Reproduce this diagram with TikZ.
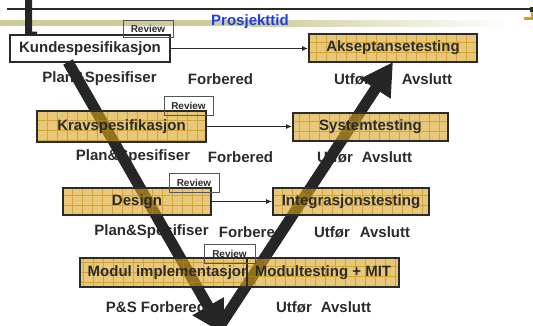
\documentclass[tikz,border=0pt]{standalone}
\usepackage{fontspec}
\setmainfont{Liberation Sans}
\usetikzlibrary{arrows.meta}
\definecolor{ink}{RGB}{43,43,43}
\definecolor{barc}{RGB}{38,38,38}
\definecolor{bandc}{RGB}{204,204,153}
\definecolor{goldf}{RGB}{216,163,30}
\definecolor{goldg}{RGB}{190,135,0}
\definecolor{blueone}{RGB}{30,60,230}
\definecolor{bracketc}{RGB}{212,160,23}
\definecolor{revc}{RGB}{85,85,85}
\begin{document}
\begin{tikzpicture}[x=1pt,y=-1pt,
  every node/.style={font=\fontsize{15}{18}\selectfont\bfseries, text=ink, inner sep=0pt},
  whitebox/.style={draw=ink, line width=1.8pt, fill=white},
  goldbox/.style={draw=ink, line width=1.8pt, fill=goldf, fill opacity=0.6, draw opacity=1, text opacity=1,
    path picture={\draw[goldg, line width=0.6pt, draw opacity=0.55, step=10pt]
      (path picture bounding box.south west) grid (path picture bounding box.north east);}},
  reviewbox/.style={draw=revc, line width=0.9pt, font=\fontsize{10}{12}\selectfont\bfseries},
  conn/.style={draw=ink, line width=1.3pt, -{Latex[length=6pt,width=5pt]}},
  vbar/.style={draw=barc, line width=11pt, -{Triangle[length=32pt,width=34pt]}}
]
\useasboundingbox (0,0) rectangle (533,325);
% band
\fill[bandc] (0,20) rectangle (250,26);
\shade[left color=bandc, right color=white] (250,20) rectangle (510,26);
% top line
\coordinate (tl) at (7,9);
\coordinate (tr) at (533,9);
\draw[ink, line width=1.5pt] (tl) -- (tr);
% bracket right
\draw[bracketc, line width=2.5pt] (532,12) -- (532,18.5) -- (524,18.5);
\fill[ink] (530,7) rectangle (533,12);
% title
\node[text=blueone] (ptid) at (250,21.5) {Prosjekttid};
% white box
\node[whitebox, minimum width=160pt, minimum height=27pt] (kunde) at (90,48.5) {Kundespesifikasjon};
% L bar
\fill[barc] (25,0) -- (32,0) -- (32,31.5) -- (37,31.5) -- (37,35) -- (25,35) -- cycle;
% row texts
\node (ra1) at (99.5,79) {Plan\&Spesifiser};
\node (rb1) at (220.5,79) {Forbered};
\node (rc1) at (352,79) {Utfør};
\node (rd1) at (427,79) {Avslutt};
\node (ra2) at (133,157) {Plan\&Spesifiser};
\node (rb2) at (240.5,157) {Forbered};
\node (rc2) at (335,157) {Utfør};
\node (rd2) at (387,157) {Avslutt};
\node (ra3) at (151.5,232) {Plan\&Spesifiser};
\node (rb3) at (251.5,232) {Forbered};
\node (rc3) at (332,232) {Utfør};
\node (rd3) at (385,232) {Avslutt};
\node (ra4) at (156,307) {P\&S Forbered};
\node (rc4) at (294,307) {Utfør};
\node (rd4) at (346,307) {Avslutt};
% V bars
\coordinate (dtop) at (68,62);
\coordinate (dbot) at (224,334);
\coordinate (ubot) at (216,332);
\coordinate (utip) at (393,62);
\draw[vbar] (dtop) -- (dbot);
\draw[vbar] (ubot) -- (utip);
% gold boxes
\node[goldbox, minimum width=168pt, minimum height=28pt] (aksept) at (393,48) {Akseptansetesting};
\node[goldbox, minimum width=169pt, minimum height=31pt] (krav) at (121.5,126.5) {Kravspesifikasjon};
\node[goldbox, minimum width=155pt, minimum height=28pt] (system) at (370.5,127) {Systemtesting};
\node[goldbox, minimum width=148pt, minimum height=27pt] (design) at (137,201.5) {Design};
\node[goldbox, minimum width=156pt, minimum height=27pt] (integ) at (351,201.5) {Integrasjonstesting};
\node[goldbox, minimum width=167pt, minimum height=29pt] (modul) at (163.5,272.5) {};
\begin{scope}
\clip (80,250) rectangle (246,295);
\node (modultxt) at (169,272.5) {Modul implementasjon};
\end{scope}
\node[goldbox, minimum width=152pt, minimum height=29pt] (modtest) at (323,272.5) {Modultesting + MIT};
% review boxes
\node[reviewbox, minimum width=50pt, minimum height=17pt] (rev1) at (148,28.5) {Review};
\node[reviewbox, minimum width=49pt, minimum height=19pt] (rev2) at (188.5,105.5) {Review};
\node[reviewbox, minimum width=50pt, minimum height=19pt] (rev3) at (194,182.5) {Review};
\node[reviewbox, minimum width=51pt, minimum height=19pt] (rev4) at (229.5,253.5) {Review};
% connectors
\draw[conn] (kunde.east) -- (kunde.east -| aksept.west);
\draw[conn] (krav.east) -- (krav.east -| system.west);
\draw[conn] (design.east) -- (design.east -| integ.west);
\end{tikzpicture}
\end{document}
